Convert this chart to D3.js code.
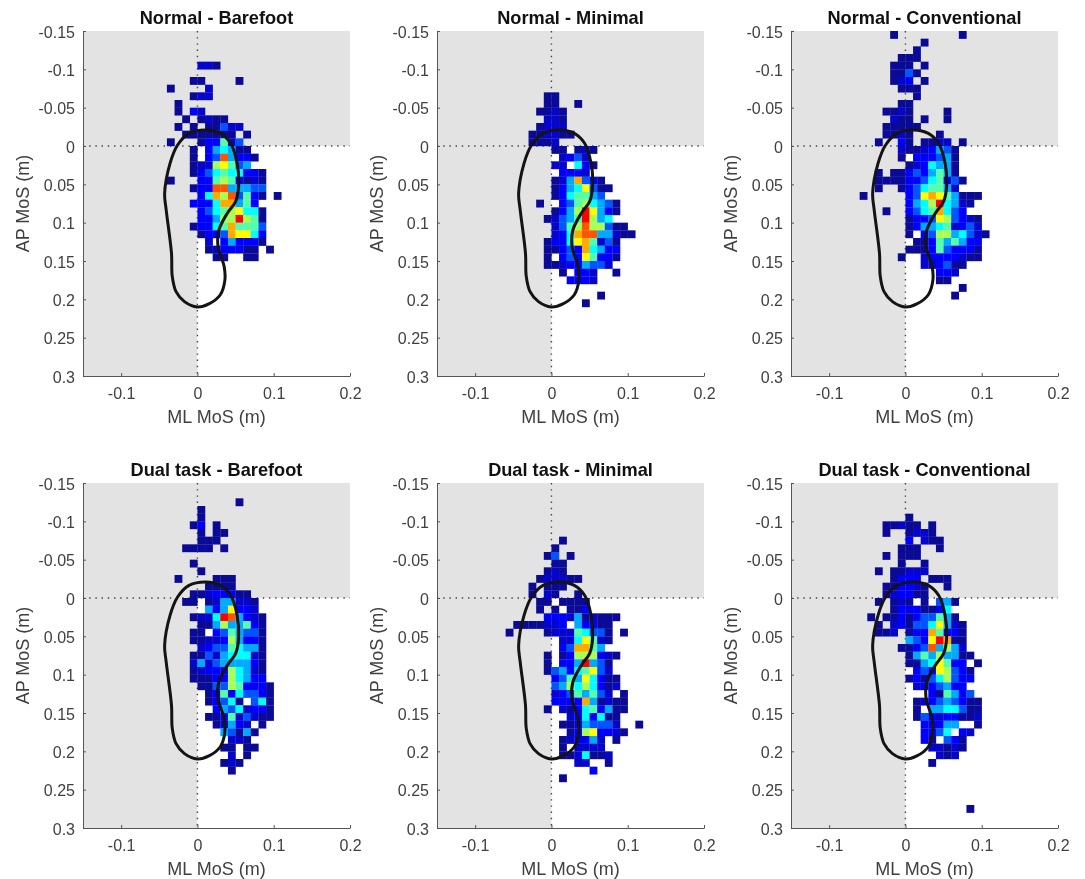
<!DOCTYPE html>
<html><head><meta charset="utf-8">
<style>html,body{margin:0;padding:0;background:#fff}svg{display:block;filter:blur(0.45px)}
text{font-family:"Liberation Sans",Arial,sans-serif}</style>
<script src="https://cdn.jsdelivr.net/npm/d3@7/dist/d3.min.js"></script></head><body>
<svg id="c" width="1085" height="879"></svg>
<script>
// Histogram rows: [row bin, first column bin, counts], bins are 0.01 m wide, '.' = empty, hex digit = count
const normalBarefoot=[[-11,0,"221"],[-9,-1,"11....1"],[-8,-4,"1....2"],[-7,-1,"122"],[-6,-3,"1"],[-5,-3,"1.32"],[-4,-2,"1.1211"],[-3,-3,"1.1.11422"],[-2,-2,"1111111.1"],[-1,-4,"1...133724"],[0,-1,"1.356511"],[1,-1,"1.34b5331"],[2,-1,"12289745"],[3,-1,"1346766331"],[4,-4,"1...337873121"],[5,-1,"133bb55544"],[6,0,"36a8b4731.1"],[7,-1,"3336aa573"],[8,0,"346789661"],[9,0,"33588c871"],[10,-1,"13367a7774"],[11,0,"1334a9963"],[12,1,"2.353331"],[13,1,"1233311.1"],[14,2,"11..11"]];
const normalMinimal=[[-7,-1,"11"],[-6,-1,"11..1"],[-5,-2,"1121"],[-4,-1,"221"],[-3,-2,"1222"],[-2,-3,"112211"],[-1,-3,"1112"],[0,0,"11.121"],[1,1,"2342"],[2,0,"22.631"],[3,1,"3332"],[4,0,"125a431"],[5,0,"13569411"],[6,0,"1367754"],[7,-2,"1..34786541"],[8,0,"1358c9531"],[9,-1,"12457c856"],[10,0,"2478b88411"],[11,0,"236abb55211"],[12,-1,"13369a7241"],[13,-1,"11343a6533"],[14,-1,"1.34397331"],[15,-1,"112335442"],[16,1,"1.332..1"],[17,2,"3332"],[19,6,"1"],[20,4,"1"]];
const normalConventional=[[-15,-2,"1........1"],[-14,2,"1"],[-13,1,"1"],[-12,-1,"111"],[-11,-2,"111.1"],[-10,-2,"1141"],[-9,-2,"123.1"],[-8,-1,"111"],[-7,1,"1"],[-6,-1,"11"],[-5,-3,"1121....1"],[-4,-2,"211.1..1"],[-3,-3,"11111"],[-2,-3,"1121...1"],[-1,-4,"1..31.1122.1"],[0,-1,"21123541"],[1,-1,"1.333451"],[2,0,"1236551"],[3,-4,"1.113435751"],[4,-4,"111133467341"],[5,-4,"1..13467752"],[6,-6,"1.....349a975111"],[7,0,"3568c6521"],[8,-3,"1..3467a643"],[9,0,"1334984321"],[10,0,"1355672342"],[11,0,"1.348856421"],[12,1,"113757533"],[13,0,"1113743331"],[14,-1,"1..23333211"],[15,2,"223411"],[16,4,"332"],[17,4,"11"],[18,7,"1"],[19,6,"1"]];
const dualBarefoot=[[-13,5,"1"],[-12,0,"1"],[-11,0,"1"],[-10,-1,"13.1"],[-9,0,"1.11"],[-8,0,"111"],[-7,-2,"1111.1"],[-5,-1,"1"],[-4,0,"1"],[-3,-3,"1....111"],[-2,1,"1111"],[-1,-1,"11233311"],[0,-2,"11.1255221"],[1,1,"5359332"],[2,-1,"1226cb5321"],[3,0,"115855731"],[4,-1,"11.3475441"],[5,-1,"1122385331"],[6,0,"234476551"],[7,-1,"1142566621"],[8,-1,"2524555531"],[9,-1,"1233386521"],[10,-1,"1113386533"],[11,0,"1144873331"],[12,1,"137364431"],[13,1,"13461.461"],[14,2,"35462331"],[15,1,"113724211"],[16,2,"12532.1"],[17,3,"54151"],[18,4,"221"],[19,3,"11.11"],[20,4,"2.1"],[21,3,"121"],[22,4,"1"]];
const dualMinimal=[[-8,1,"1"],[-7,0,"1"],[-6,-1,"14.1"],[-5,0,"11"],[-4,-1,"121"],[-3,-2,"122211"],[-2,-3,"1.111"],[-1,-3,"1.21..1"],[0,-2,"11.1111"],[1,-2,"1.1.113"],[2,-1,"3332512111"],[3,-5,"1111223.53311"],[4,-6,"1....122276441.1"],[5,1,"2269721"],[6,1,"34aa75"],[7,-1,"1.13888321"],[8,-1,"1.335c541"],[9,-1,"145367942"],[10,0,"347596311"],[11,0,"458686312"],[12,0,"23475742.1"],[13,0,"3333a51211"],[14,-1,"1.213673511"],[15,2,"2363611"],[16,1,"11254442..1"],[17,2,"13893321"],[18,1,"122352.1"],[19,1,"1.2222"],[20,1,"1126112"],[21,3,"22..1"],[22,5,"3"],[23,1,"1"]];
const dualConventional=[[-11,0,"1"],[-10,-3,"11211.1"],[-9,-3,"1..1221"],[-8,0,"3.211"],[-7,-1,"111..1"],[-6,-3,"1.111"],[-5,-1,"1..1"],[-4,-4,"1.11222"],[-3,-2,"1333.111"],[-2,-3,"113321..1"],[-1,-3,"123311"],[0,-4,"1.121.1.451"],[1,-2,"13331136"],[2,-5,"1.1131344751"],[3,-4,"1.2314469521"],[4,-4,"112.133a7331"],[5,0,"5439ca11"],[6,-1,"1134b5852"],[7,0,"157585511"],[8,0,"11569733.1"],[9,1,"34398431"],[10,0,"131468433"],[11,1,"2334533"],[12,3,"317534"],[13,1,"123454311"],[14,1,"1.5566411"],[15,1,"143233112"],[16,2,"33355..1"],[17,2,"3346.32"],[18,2,"31.431"],[19,3,"22121"],[20,4,"212"],[21,3,"1"],[27,8,"1"]];

const panelTitles=["Normal - Barefoot","Normal - Minimal","Normal - Conventional","Dual task - Barefoot","Dual task - Minimal","Dual task - Conventional"];
const panelData=[normalBarefoot,normalMinimal,normalConventional,dualBarefoot,dualMinimal,dualConventional];
const xTicks=[-0.1,0,0.1,0.2];
const yTicks=[-0.15,-0.1,-0.05,0,0.05,0.1,0.15,0.2,0.25,0.3];
const footX=[0.011,0.030,0.0435,0.052,0.054,0.050,0.039,0.028,0.027,0.035,0.036,0.030,0.015,0,-0.017,-0.028,-0.033,-0.034,-0.041,-0.043,-0.036,-0.026,-0.011];
const footY=[-0.021,-0.0165,-0.0035,0.0226,0.053,0.0726,0.088,0.11,0.131,0.157,0.175,0.194,0.206,0.21,0.203,0.19,0.17,0.14,0.083,0.062,0.023,-0.0013,-0.0165];
const xLabel="ML MoS (m)",yLabel="AP MoS (m)";

const lefts=[83,437,791],tops=[31,483],W=267,H=345,binSize=0.01;
const x=d3.scaleLinear().domain([-0.15,0.2]).range([0,W]);
const y=d3.scaleLinear().domain([-0.15,0.3]).range([0,H]);
const colour=d3.scaleLinear().domain([1,3,6,9,12]).range(["#0a0a96","#0000ff","#00ffff","#ffff00","#ff0000"]);
const line=d3.line().x(d=>x(d[0])).y(d=>y(d[1])).curve(d3.curveCatmullRomClosed.alpha(0.5));
const foot=footX.map((v,i)=>[v,footY[i]]);
const svg=d3.select("#c");
panelData.forEach((rows,pi)=>{
  const g=svg.append("g").attr("transform",`translate(${lefts[pi%3]},${tops[pi>2?1:0]})`);
  // shaded unstable regions
  g.append("rect").attr("x",x(-0.15)).attr("y",y(-0.15)).attr("width",x(0.2)-x(-0.15)).attr("height",y(0)-y(-0.15)).attr("fill","#e3e3e3");
  g.append("rect").attr("x",x(-0.15)).attr("y",y(0)).attr("width",x(0)-x(-0.15)).attr("height",y(0.3)-y(0)).attr("fill","#e3e3e3");
  // reference lines
  g.append("line").attr("x1",x(-0.15)).attr("x2",x(0.2)).attr("y1",y(0)).attr("y2",y(0)).attr("class","ref");
  g.append("line").attr("x1",x(0)).attr("x2",x(0)).attr("y1",y(-0.15)).attr("y2",y(0.3)).attr("class","ref");
  g.selectAll(".ref").attr("stroke","#444").attr("stroke-width",1.4).attr("stroke-dasharray","1.4 4.8");
  // cells
  const cells=[];
  rows.forEach(([r,c0,s])=>[...s].forEach((ch,i)=>{if(ch!==".")cells.push({c:c0+i,r,v:parseInt(ch,16)});}));
  g.selectAll("rect.cell").data(cells).join("rect").attr("class","cell")
    .attr("x",d=>x(d.c*binSize)).attr("y",d=>y(d.r*binSize))
    .attr("width",x(binSize)-x(0)+0.2).attr("height",y(binSize)-y(0)+0.2)
    .attr("fill",d=>colour(d.v));
  // foot outline
  g.append("path").attr("d",line(foot)).attr("fill","none").attr("stroke","#141414").attr("stroke-width",3);
  // axes
  const ax=g.append("g").attr("transform",`translate(0,${H})`).call(d3.axisBottom(x).tickValues(xTicks).tickFormat(String).tickSizeInner(-3).tickSizeOuter(0).tickPadding(12));
  const ay=g.append("g").call(d3.axisLeft(y).tickValues(yTicks).tickFormat(String).tickSizeInner(-3).tickSizeOuter(0).tickPadding(8));
  [ax,ay].forEach(a=>{a.selectAll("path,line").attr("stroke","#555");a.selectAll("text").attr("font-size",16).attr("fill","#404040").attr("font-family","Liberation Sans");});
  ay.selectAll("text").attr("y",1);
  g.append("text").attr("x",W/2).attr("y",H+47).attr("text-anchor","middle").attr("font-size",18).attr("fill","#404040").text(xLabel);
  g.append("text").attr("transform",`translate(-54,${H/2}) rotate(-90)`).attr("text-anchor","middle").attr("font-size",18).attr("fill","#404040").text(yLabel);
  g.append("text").attr("x",W/2).attr("y",-7).attr("text-anchor","middle").attr("font-size",18.2).attr("font-weight","bold").attr("fill","#111").text(panelTitles[pi]);
});
</script></body></html>
